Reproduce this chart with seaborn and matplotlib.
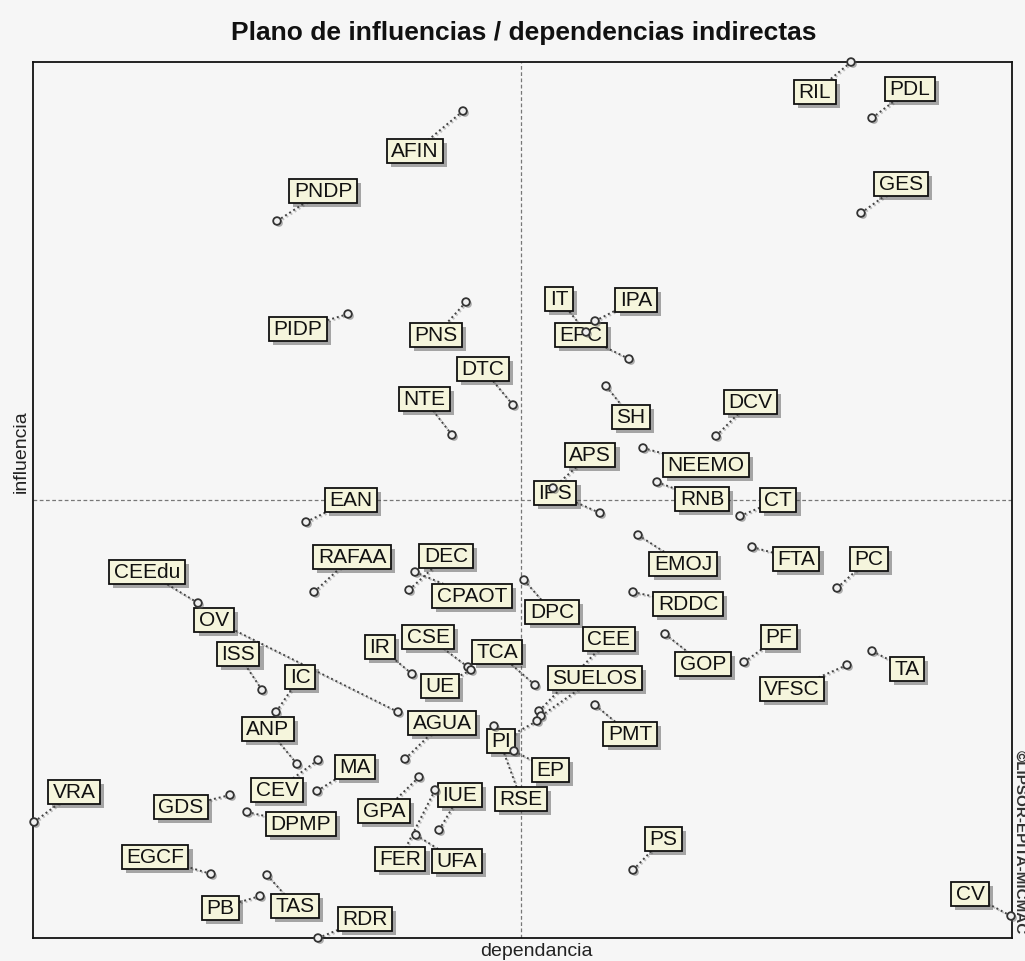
import numpy as np
import pandas as pd
import matplotlib
matplotlib.use("Agg")
import matplotlib.pyplot as plt
import matplotlib.patheffects as pe
from matplotlib.path import Path
import seaborn as sns

# Variables of the structural analysis (indirect influence / dependence)
variables = [
    "RIL", "PDL", "AFIN", "PNDP", "GES", "IT", "IPA", "PIDP", "PNS", "EPC",
    "DTC", "NTE", "SH", "DCV", "APS", "NEEMO", "EAN", "IPS", "RNB", "CT",
    "RAFAA", "DEC", "CEEdu", "EMOJ", "FTA", "PC", "CPAOT", "DPC", "RDDC", "OV",
    "CSE", "IR", "CEE", "PF", "ISS", "TCA", "GOP", "IC", "SUELOS", "TA",
    "VFSC", "UE", "ANP", "AGUA", "PI", "PMT", "MA", "EP", "VRA", "CEV",
    "IUE", "RSE", "GDS", "GPA", "DPMP", "FER", "UFA", "PS", "EGCF", "PB",
    "TAS", "RDR", "CV",
]
dependencia = [
    818, 839, 430, 244, 828, 553, 562, 315, 433, 596,
    480, 419, 573, 683, 520, 610, 273, 567, 624, 707,
    281, 376, 165, 605, 719, 804, 382, 491, 600, 365,
    435, 379, 506, 711, 229, 502, 632, 243, 508, 839,
    814, 438, 264, 372, 504, 562, 284, 481, 1, 285,
    406, 461, 197, 386, 214, 402, 383, 600, 178, 227,
    234, 285, 978,
]
influencia = [
    876, 820, 827, 717, 725, 606, 617, 624, 636, 579,
    533, 503, 552, 502, 450, 490, 416, 425, 456, 422,
    346, 348, 335, 403, 391, 350, 366, 358, 346, 226,
    271, 264, 227, 276, 248, 253, 304, 226, 222, 287,
    273, 268, 174, 179, 217, 233, 147, 187, 116, 178,
    108, 212, 143, 161, 126, 148, 103, 68, 64, 42,
    63, 0, 22,
]
mean_dependencia = 488
mean_influencia = 438

# Label placement relative to each point (pixels, right / up)
label_offsets = [
    (-36, -30), (38, 29), (-48, -40), (46, 30), (40, 29), (-27, 33), (41, 21), (-50, -15), (-30, -33), (-48, 24),
    (-30, 36), (-28, 36), (25, -31), (34, 34), (37, 33), (63, -17), (45, 22), (-45, 20), (45, -17), (38, 16),
    (38, 35), (37, 34), (-51, 31), (45, -29), (44, -12), (32, 29), (57, -24), (28, -32), (55, -12), (-184, 92),
    (-40, 30), (-32, 27), (70, 72), (35, 25), (-24, 36), (-38, 33), (38, -30), (24, 35), (54, 38), (35, -18),
    (-55, -24), (-31, -16), (-29, 35), (37, 36), (-36, -20), (35, -29), (38, 24), (36, -19), (40, 30), (-41, -30),
    (21, 35), (27, -73), (-49, -12), (-35, -34), (54, -12), (-35, -69), (41, -26), (30, 31), (-56, 17), (-40, -12),
    (28, -31), (47, 19), (-41, 22),
]

df = pd.DataFrame({"variable": variables,
                   "dependencia": dependencia,
                   "influencia": influencia})

sns.set_theme(style="white")
plt.rcParams["font.family"] = ["Liberation Sans", "DejaVu Sans"]

W, H = 1025, 962
BG = "#f6f6f6"
fig = plt.figure(figsize=(W / 100, H / 100), dpi=100, facecolor=BG)
ax = fig.add_axes([33 / W, (H - 939) / H, (1012 - 33) / W, (939 - 63) / H])
ax.set_facecolor(BG)


def label_box(x0, y0, width, height, mutation_size):
    padx, pady = 4.5, 2.5
    x0 -= padx
    y0 -= pady
    x1 = x0 + width + 2 * padx
    y1 = y0 + height + 2 * pady
    return Path([(x0, y0), (x1, y0), (x1, y1), (x0, y1), (x0, y0)],
                [Path.MOVETO, Path.LINETO, Path.LINETO, Path.LINETO, Path.CLOSEPOLY])


sns.scatterplot(data=df, x="dependencia", y="influencia", ax=ax, s=30, marker="o",
                facecolor="#f0f0f0", edgecolor="#333333", linewidth=1.3, zorder=6,
                clip_on=False, legend=False)
ax.collections[-1].set_path_effects(
    [pe.SimplePatchShadow(offset=(1.5, -1.5), shadow_rgbFace="#666666", alpha=0.5), pe.Normal()])

ax.set_xlim(0, 979)
ax.set_ylim(0, 876)
ax.set_xticks([])
ax.set_yticks([])
ax.set_xlabel("")
ax.set_ylabel("")
for sp in ax.spines.values():
    sp.set_color("#111111")
    sp.set_linewidth(1.3)

# Quadrant separators at the mean values
ax.axvline(mean_dependencia, color="#777777", lw=0.9, ls=(0, (3, 2)), zorder=1)
ax.axhline(mean_influencia, color="#777777", lw=0.9, ls=(0, (3, 2)), zorder=1)

to_disp = ax.transData
to_data = ax.transData.inverted()
for name, x, y, (dx, dy) in zip(df["variable"], df["dependencia"], df["influencia"], label_offsets):
    px, py = to_disp.transform((x, y))
    lx, ly = to_data.transform((px + dx, py + dy))
    # dotted leader from the point to its label
    ax.plot([x, lx], [y, ly], color="#444444", lw=1.4, ls=(0, (1, 1.5)),
            zorder=2, clip_on=False,
            path_effects=[pe.SimpleLineShadow(offset=(1, -1), shadow_color="#999999", alpha=0.6), pe.Normal()])
    t = ax.text(lx, ly, name, ha="center", va="center", fontsize=15, color="#111111",
                zorder=5, clip_on=False,
                bbox=dict(boxstyle=label_box, facecolor="#f5f5dc", edgecolor="#111111", linewidth=1.3))
    t.get_bbox_patch().set_path_effects(
        [pe.SimplePatchShadow(offset=(3, -3), shadow_rgbFace="#444444", alpha=0.45), pe.Normal()])

# Axis titles
ax.text(0.514, -0.004, "dependancia", transform=ax.transAxes, ha="center", va="top",
        fontsize=14, color="#222222", clip_on=False)
ax.text(-0.0125, 0.556, "influencia", transform=ax.transAxes, ha="center", va="center",
        rotation=90, fontsize=14, color="#222222", clip_on=False)

fig.text(524 / W, 1 - 33 / H, "Plano de influencias / dependencias indirectas",
         ha="center", va="center", fontsize=19, fontweight="bold", color="#111111")
fig.text(1020 / W, 1 - 750 / H, "\u00a9LIPSOR-EPITA-MICMAC", rotation=270,
         ha="center", va="top", fontsize=11, fontweight="bold", color="#333333")

fig.savefig("out.png", dpi=100, facecolor=BG)
